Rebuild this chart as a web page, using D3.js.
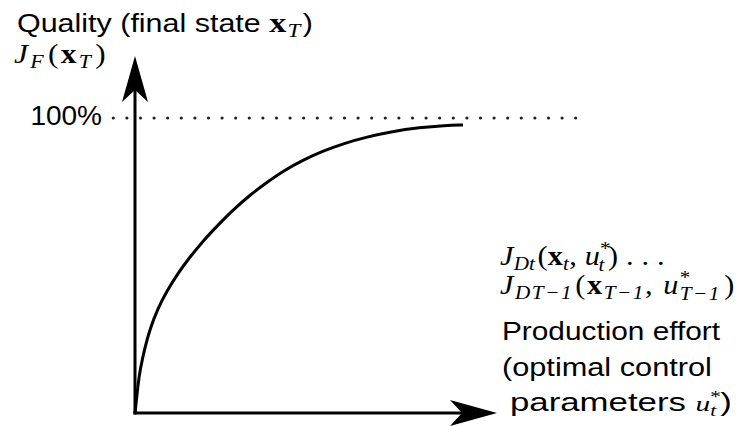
<!DOCTYPE html>
<html>
<head>
<meta charset="utf-8">
<script src="https://cdn.jsdelivr.net/npm/d3@7"></script>
<style>
  body { margin: 0; background: #fff; }
  svg { display: block; }
  .sans { font-family: "Liberation Sans", Arial, sans-serif; }
  .math { font-family: "Liberation Serif", "Times New Roman", serif; }
</style>
</head>
<body>
<svg id="chart" width="740" height="426"></svg>
<script>
// production effort (0..100) vs quality (% of final state)
const effort  = [0, 0.28, 0.83, 1.38, 2.76, 4.14, 6.35, 8.84, 11.88, 15.19, 18.78, 22.65, 27.07,
                 31.77, 36.19, 40.88, 46.41, 51.93, 58.01, 64.09, 70.44, 78.73, 85.64, 90.61];
const quality = [0, 3.05, 9.49, 14.58, 22.37, 28.47, 35.59, 41.36, 47.46, 52.88, 58.31, 63.39, 68.81,
                 73.90, 77.97, 82.03, 85.76, 88.81, 91.53, 93.59, 95.29, 96.81, 97.49, 97.63];
const yTicks = [100];
const yTickLabels = ["100%"];
const refExtent = [-6, 124];   // extent of the dotted 100% line, in effort units
const axisEnd = { x: 100, y: 121 };

const svg = d3.select("#chart");
const x = d3.scaleLinear().domain([0, 100]).range([135, 497]);
const y = d3.scaleLinear().domain([0, 100]).range([413, 118]);

// dotted reference line at 100%
yTicks.forEach((t, i) => {
    svg.append("line")
        .attr("x1", x(refExtent[0]))
        .attr("x2", x(refExtent[1]))
        .attr("y1", y(t))
        .attr("y2", y(t))
        .attr("stroke", "#222")
        .attr("stroke-width", 3.2)
        .attr("stroke-linecap", "round")
        .attr("stroke-dasharray", "0 13.6");
    svg.append("text")
        .attr("class", "sans")
        .attr("x", 102)
        .attr("y", y(t) + 7)
        .attr("text-anchor", "end")
        .attr("font-size", "28px")
        .text(yTickLabels[i]);
});

// axes
const tipY = y(axisEnd.y), tipX = x(axisEnd.x);
svg.append("line")
    .attr("x1", x(0)).attr("x2", x(0))
    .attr("y1", y(0) + 1.5).attr("y2", tipY + 20)
    .attr("stroke", "#000").attr("stroke-width", 3);
svg.append("line")
    .attr("x1", x(0) - 1.5).attr("x2", tipX - 20)
    .attr("y1", y(0)).attr("y2", y(0))
    .attr("stroke", "#000").attr("stroke-width", 3);

// arrow heads
svg.append("path")
    .attr("d", `M${x(0)},${tipY} L${x(0) + 13},${tipY + 46} L${x(0)},${tipY + 34} L${x(0) - 13},${tipY + 46} Z`)
    .attr("fill", "#000");
svg.append("path")
    .attr("d", `M${tipX},${y(0)} L${tipX - 47},${y(0) - 13} L${tipX - 35},${y(0)} L${tipX - 47},${y(0) + 13} Z`)
    .attr("fill", "#000");

// quality curve
const line = d3.line()
    .x((d, i) => x(effort[i]))
    .y(d => y(d))
    .curve(d3.curveBasis);

svg.append("path")
    .datum(quality)
    .attr("fill", "none")
    .attr("stroke", "#000")
    .attr("stroke-width", 3)
    .attr("d", line);

// stretch a text horizontally so that it spans a given width (the reference is wider)
function fit(t, x0, width) {
    let w = t.node().getBBox().width;
    t.attr("transform", `translate(${x0},0) scale(${width / w},1) translate(${-x0},0)`);
}
// math: stretch a little, then space the glyphs out for the rest
function spread(t, x0, width) {
    const sx = 1.12;
    let w = t.node().getBBox().width;
    let n = t.text().length;
    t.attr("letter-spacing", ((width / sx - w) / n).toFixed(2));
    t.attr("transform", `translate(${x0},0) scale(${sx},1) translate(${-x0},0)`);
}

function addMath(tx, ty, size, parts) {
    let t = svg.append("text").attr("class", "math").attr("x", tx).attr("y", ty).attr("font-size", size + "px");
    parts.forEach(p => {
        let s = t.append("tspan").text(p.t);
        if (p.i) s.attr("font-style", "italic");
        if (p.b) s.attr("font-weight", "bold");
        if (p.s) s.attr("font-size", (size * p.s) + "px");
        if (p.dy) s.attr("dy", p.dy);
        if (p.dx) s.attr("dx", p.dx);
    });
    return t;
}

let title = svg.append("text").attr("class", "sans").attr("x", 17).attr("y", 32).attr("font-size", "25px");
title.append("tspan").text("Quality (final state ");
title.append("tspan").attr("class", "math").attr("font-weight", "bold").attr("font-size", "28px").text("x");
title.append("tspan").attr("class", "math").attr("font-style", "italic").attr("font-size", "19px").attr("dy", 5).attr("dx", 1).text("T");
title.append("tspan").attr("dy", -5).attr("dx", 2).text(")");
fit(title, 17, 296);

spread(addMath(14, 63, 28, [
    { t: "J", i: 1 }, { t: "F", i: 1, s: 0.7, dy: 5 }, { t: "(", dy: -5, dx: 2 },
    { t: "x", b: 1 }, { t: "T", i: 1, s: 0.7, dy: 5 }, { t: ")", dy: -5, dx: 2 }
]), 14, 94);

spread(addMath(500, 265, 27, [
    { t: "J", i: 1 }, { t: "Dt", i: 1, s: 0.7, dy: 5 }, { t: "(", dy: -5, dx: 2 },
    { t: "x", b: 1 }, { t: "t", i: 1, s: 0.7, dy: 5 }, { t: ", ", dy: -5 },
    { t: "u", i: 1 }, { t: "*", s: 0.7, dy: -10 }, { t: "t", i: 1, s: 0.7, dy: 16, dx: -11 },
    { t: ") . . .", dy: -6, dx: 3 }
]), 500, 165);

spread(addMath(500, 294, 27, [
    { t: "J", i: 1 }, { t: "DT−1", i: 1, s: 0.7, dy: 5 }, { t: "(", dy: -5, dx: 2 },
    { t: "x", b: 1 }, { t: "T−1", i: 1, s: 0.7, dy: 5 }, { t: ", ", dy: -5 },
    { t: "u", i: 1 }, { t: "*", s: 0.7, dy: -10 }, { t: "T−1", i: 1, s: 0.7, dy: 16, dx: -11 },
    { t: ")", dy: -6, dx: 3 }
]), 500, 236);

const effortLines = ["Production effort", "(optimal control"];
const effortWidths = [219, 210];
effortLines.forEach((s, i) => {
    let t = svg.append("text").attr("class", "sans")
        .attr("x", 502).attr("y", 340 + i * 36)
        .attr("font-size", "26px").text(s);
    fit(t, 502, effortWidths[i]);
});
let last = svg.append("text").attr("class", "sans").attr("x", 510).attr("y", 411).attr("font-size", "26px");
last.append("tspan").text("parameters ");
last.append("tspan").attr("class", "math").attr("font-style", "italic").attr("font-size", "22px").text("u");
last.append("tspan").attr("class", "math").attr("font-size", "16px").attr("dy", -9).text("*");
last.append("tspan").attr("class", "math").attr("font-style", "italic").attr("font-size", "16px").attr("dy", 14).attr("dx", -8).text("t");
last.append("tspan").attr("dy", -5).attr("dx", 3).text(")");
fit(last, 510, 222);
</script>
</body>
</html>
